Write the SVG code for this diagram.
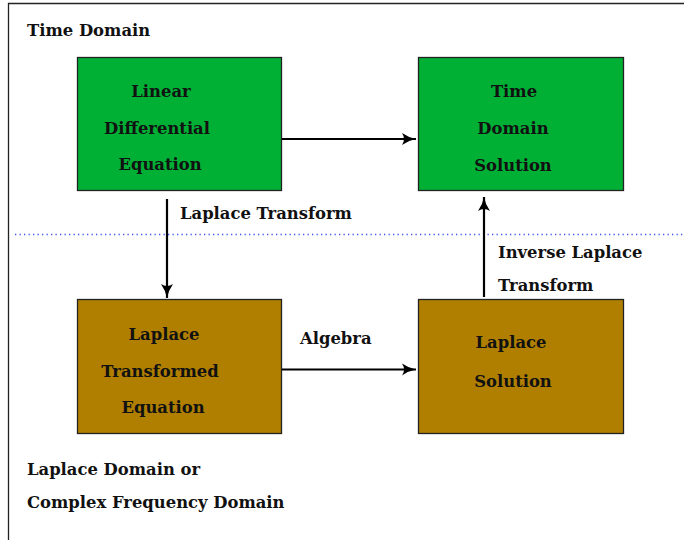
<svg xmlns="http://www.w3.org/2000/svg" width="684" height="540" viewBox="0 0 684 540">
  <defs>
    <marker id="arrow" viewBox="0 0 16 14" refX="15" refY="7" markerWidth="16" markerHeight="14" markerUnits="userSpaceOnUse" orient="auto">
      <path d="M1,1 Q8,5.8 15,7 Q8,8.2 1,13 Q5,7 1,1 Z" fill="#000"/>
    </marker>
    <style>
      text { font-family: "DejaVu Serif", "Liberation Serif", serif; font-weight: bold; font-size: 16.4px; fill: #111; }
      .mid { text-anchor: middle; }
      .green { fill: #00b035; stroke: #222; stroke-width: 1.3; }
      .brown { fill: #b07f00; stroke: #222; stroke-width: 1.3; }
      .edge { stroke: #000; stroke-width: 2.2; fill: none; marker-end: url(#arrow); }
    </style>
  </defs>

  <rect width="684" height="540" fill="#fff"/>
  <!-- outer frame (open at right and bottom) -->
  <path d="M8.5,540 V3.5 H684" fill="none" stroke="#222" stroke-width="1.3"/>
  <!-- domain separator -->
  <line x1="15" y1="234.5" x2="684" y2="234.5" stroke="#4455ee" stroke-width="1.3" stroke-dasharray="1.3 3.2"/>

  <text x="27" y="36">Time Domain</text>
  <text x="27" y="475">Laplace Domain or</text>
  <text x="27" y="508">Complex Frequency Domain</text>

  <g id="lde">
    <rect class="green" x="77.5" y="57.5" width="204" height="133"/>
    <text class="mid" x="161" y="97">Linear</text>
    <text class="mid" x="157" y="134">Differential</text>
    <text class="mid" x="160" y="170">Equation</text>
  </g>
  <g id="tds">
    <rect class="green" x="418.5" y="57.5" width="205" height="133"/>
    <text class="mid" x="514" y="97">Time</text>
    <text class="mid" x="513" y="134">Domain</text>
    <text class="mid" x="513" y="171">Solution</text>
  </g>
  <g id="lte">
    <rect class="brown" x="77.5" y="299.5" width="204" height="134"/>
    <text class="mid" x="164" y="340">Laplace</text>
    <text class="mid" x="160" y="377">Transformed</text>
    <text class="mid" x="163" y="413">Equation</text>
  </g>
  <g id="ls">
    <rect class="brown" x="418.5" y="299.5" width="205" height="134"/>
    <text class="mid" x="511" y="348">Laplace</text>
    <text class="mid" x="513" y="387">Solution</text>
  </g>

  <g id="connectors">
    <line class="edge" x1="282" y1="139" x2="416" y2="139"/>
    <line class="edge" x1="167" y1="199" x2="167" y2="298"/>
    <line class="edge" x1="484" y1="297" x2="484" y2="197"/>
    <line class="edge" x1="282" y1="369.5" x2="416" y2="369.5"/>
    <text x="180" y="219">Laplace Transform</text>
    <text x="498" y="258">Inverse Laplace</text>
    <text x="498" y="291">Transform</text>
    <text x="300" y="344">Algebra</text>
  </g>
</svg>
